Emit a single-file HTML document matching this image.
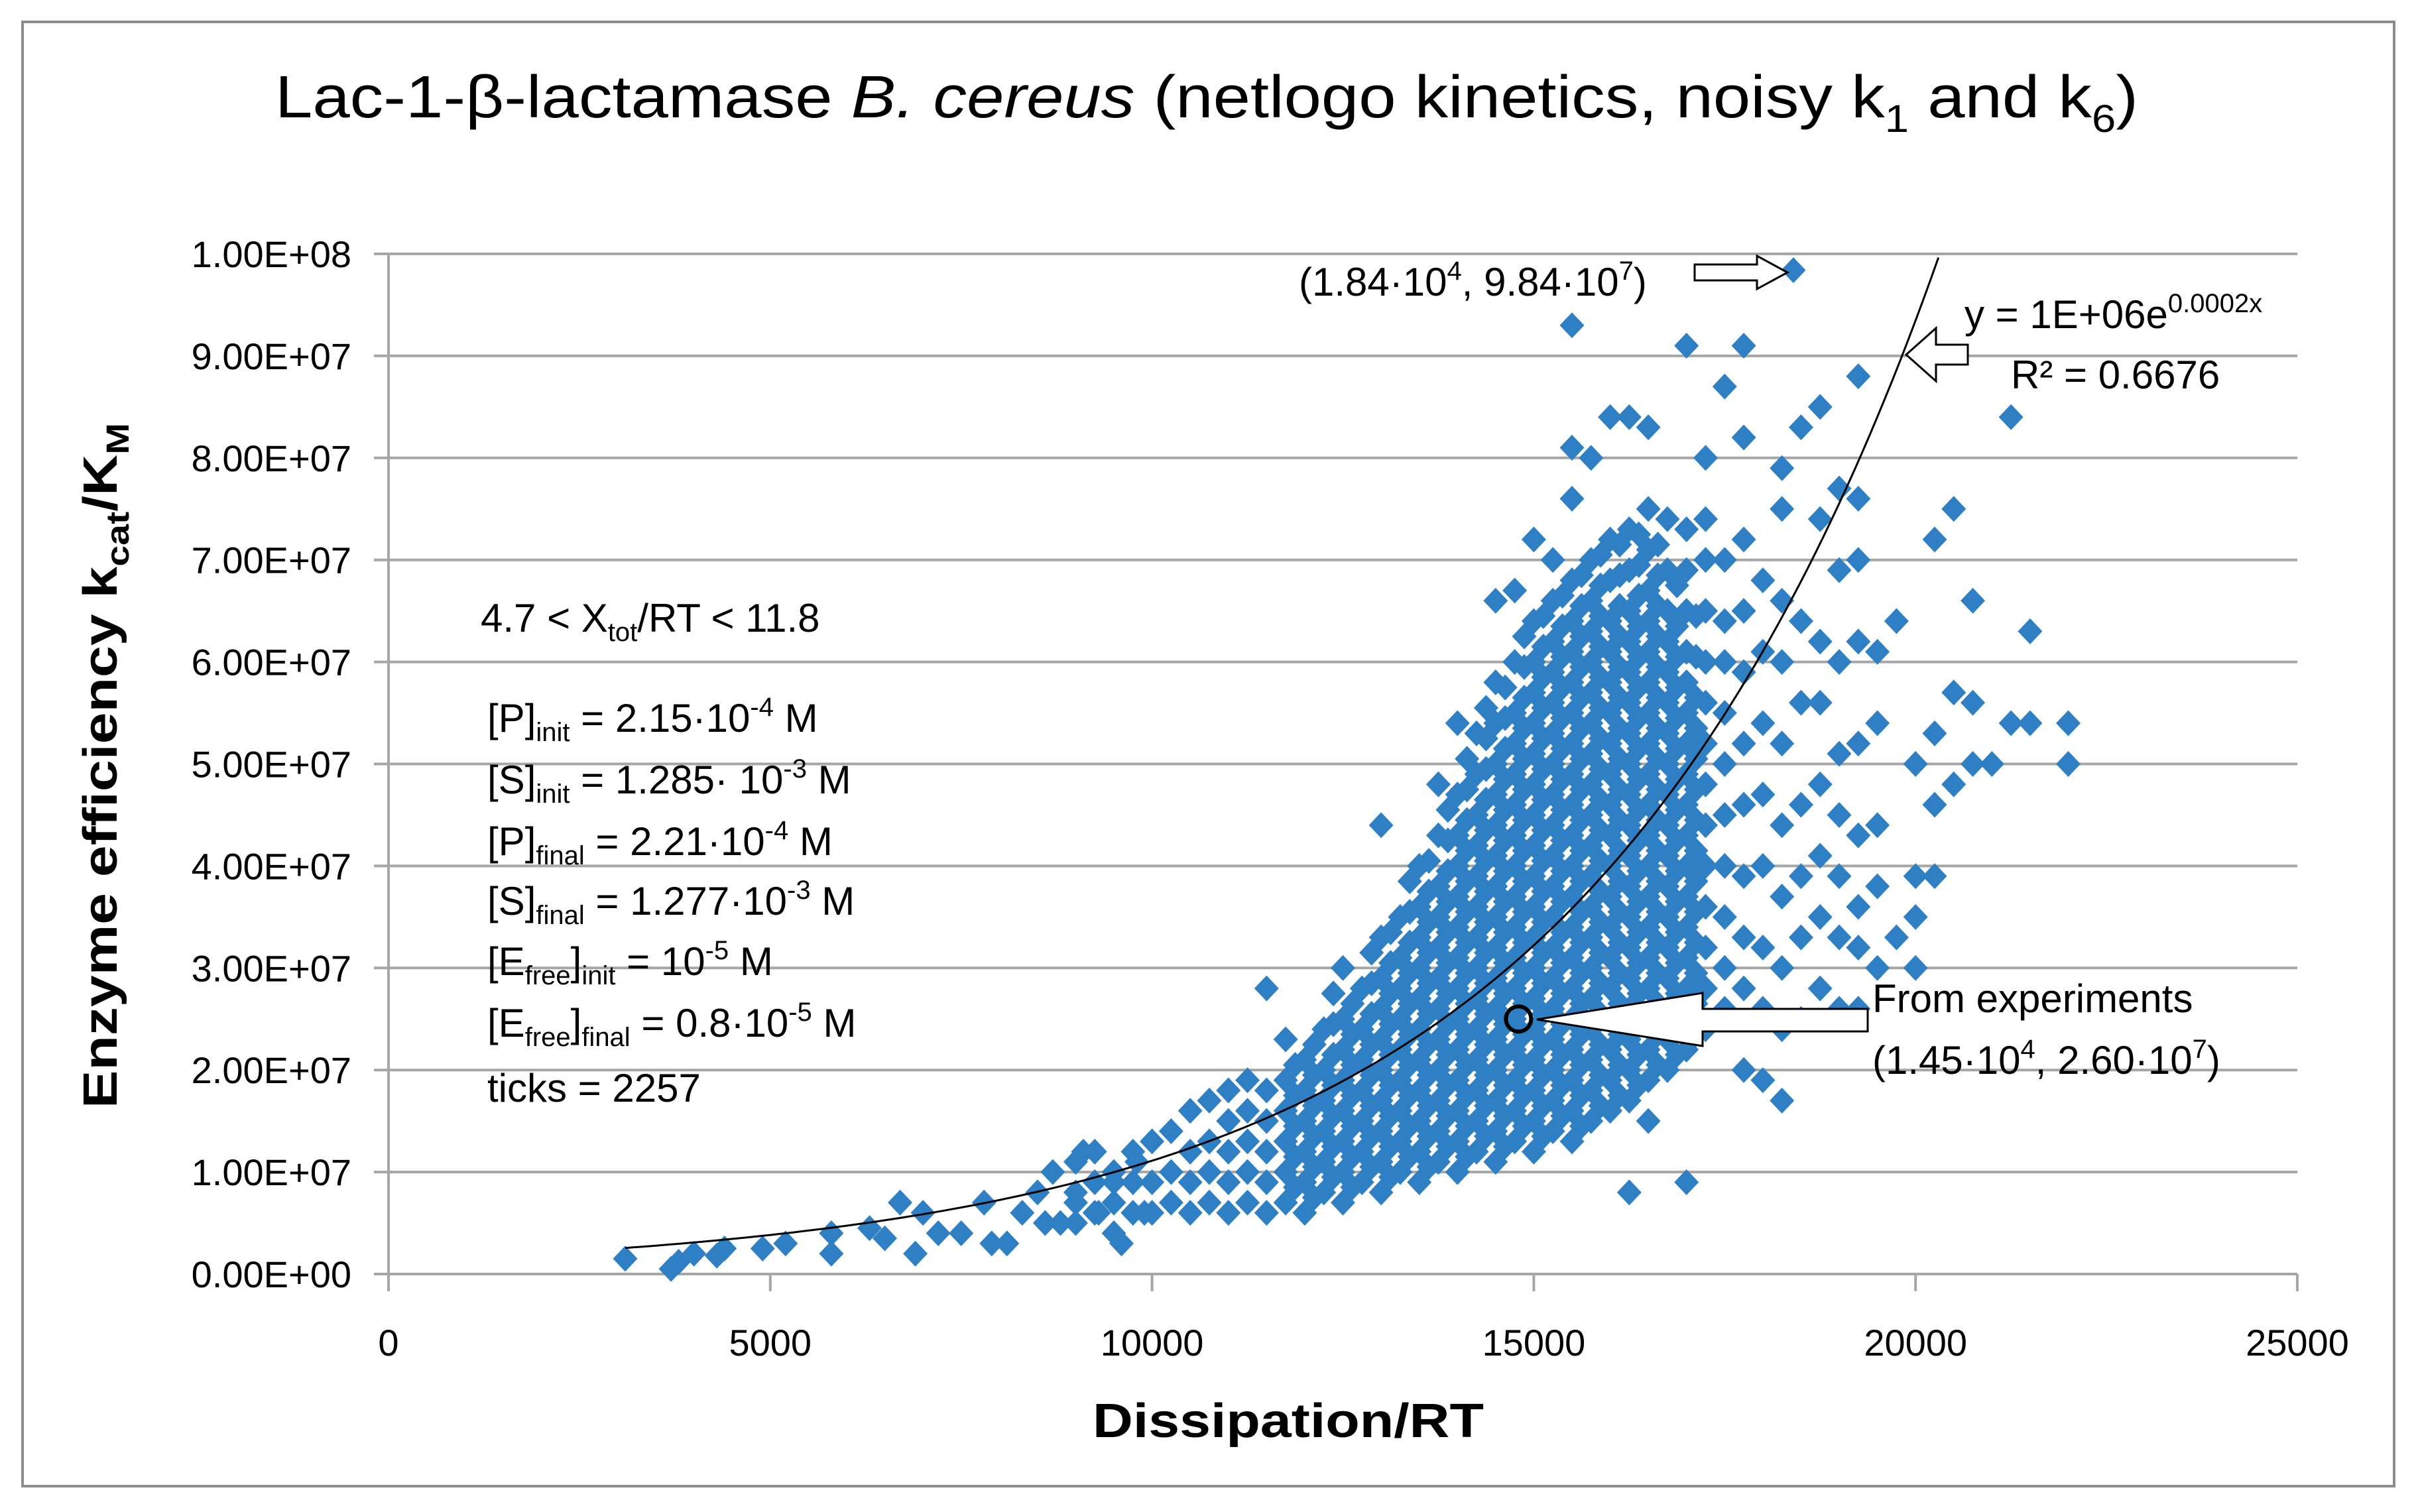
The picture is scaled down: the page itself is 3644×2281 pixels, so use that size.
<!DOCTYPE html>
<html><head><meta charset="utf-8"><title>Lac-1-β-lactamase B. cereus</title>
<style>html,body{margin:0;padding:0;background:#fff}svg{display:block}text{font-family:"Liberation Sans",sans-serif;fill:#000}</style>
</head><body>
<svg id="chart" width="3644" height="2281" viewBox="0 0 3644 2281" xmlns="http://www.w3.org/2000/svg">
<rect x="34" y="33" width="3577" height="2209" fill="#fff" stroke="#8c8c8c" stroke-width="4"/>
<text x="1820" y="177" font-size="90" text-anchor="middle" textLength="2810" lengthAdjust="spacingAndGlyphs">Lac-1-β-lactamase <tspan font-style="italic">B. cereus</tspan> (netlogo kinetics, noisy k<tspan font-size="58" dy="22">1</tspan><tspan dy="-22"> and k</tspan><tspan font-size="58" dy="22">6</tspan><tspan dy="-22">)</tspan></text>
<g id="grid"></g>
<g id="axes"></g>
<path id="trend" fill="none" stroke="#000" stroke-width="3"/>
<g id="pts"></g>
<text x="1943" y="2168" font-size="72" font-weight="bold" text-anchor="middle" textLength="590" lengthAdjust="spacingAndGlyphs">Dissipation/RT</text>
<text transform="translate(176,1155) rotate(-90)" font-size="72" font-weight="bold" text-anchor="middle" textLength="1034" lengthAdjust="spacingAndGlyphs">Enzyme efficiency k<tspan font-size="48" dy="18">cat</tspan><tspan dy="-18">/K</tspan><tspan font-size="48" dy="18">M</tspan></text>
<g font-size="60">
<text x="725" y="953">4.7 &lt; X<tspan font-size="40" dy="14">tot</tspan><tspan dy="-14">/RT &lt; 11.8</tspan></text>
<text x="735" y="1104">[P]<tspan font-size="40" dy="14">init</tspan><tspan dy="-14"> = 2.15·10</tspan><tspan font-size="40" dy="-24">-4</tspan><tspan dy="24"> M</tspan></text>
<text x="735" y="1197">[S]<tspan font-size="40" dy="14">init</tspan><tspan dy="-14"> = 1.285· 10</tspan><tspan font-size="40" dy="-24">-3</tspan><tspan dy="24"> M</tspan></text>
<text x="735" y="1290">[P]<tspan font-size="40" dy="14">final</tspan><tspan dy="-14">  = 2.21·10</tspan><tspan font-size="40" dy="-24">-4</tspan><tspan dy="24"> M</tspan></text>
<text x="735" y="1380">[S]<tspan font-size="40" dy="14">final</tspan><tspan dy="-14"> = 1.277·10</tspan><tspan font-size="40" dy="-24">-3</tspan><tspan dy="24"> M</tspan></text>
<text x="735" y="1471">[E<tspan font-size="40" dy="14">free</tspan><tspan dy="-14">]</tspan><tspan font-size="40" dy="14">init</tspan><tspan dy="-14">  = 10</tspan><tspan font-size="40" dy="-24">-5</tspan><tspan dy="24"> M</tspan></text>
<text x="735" y="1564">[E<tspan font-size="40" dy="14">free</tspan><tspan dy="-14">]</tspan><tspan font-size="40" dy="14">final</tspan><tspan dy="-14">  = 0.8·10</tspan><tspan font-size="40" dy="-24">-5</tspan><tspan dy="24"> M</tspan></text>
<text x="735" y="1662">ticks = 2257</text>
</g>
<g>
<text x="1959" y="446" font-size="60">(1.84·10<tspan font-size="40" dy="-24">4</tspan><tspan dy="24">, 9.84·10</tspan><tspan font-size="40" dy="-24">7</tspan><tspan dy="24">)</tspan></text>
<path d="M2556,399 L2650,399 L2650,386 L2696,411 L2650,436 L2650,423 L2556,423 Z" fill="#fff" stroke="#000" stroke-width="3"/>
</g>
<g>
<text x="2963" y="495" font-size="60">y = 1E+06e<tspan font-size="40" dy="-24">0.0002x</tspan></text>
<text x="3033" y="586" font-size="60">R² = 0.6676</text>
<path d="M2875,535 L2920,495 L2920,520 L2968,520 L2968,550 L2920,550 L2920,575 Z" fill="#fff" stroke="#000" stroke-width="3"/>
</g>
<g>
<path d="M2318,1538 L2568,1498 L2568,1522 L2817,1522 L2817,1556 L2568,1556 L2568,1578 Z" fill="#fff" stroke="#000" stroke-width="3"/>
<circle id="expPt" r="19" fill="none" stroke="#000" stroke-width="6"/>
<text x="2824" y="1527" font-size="60">From experiments</text>
<text x="2824" y="1620" font-size="60">(1.45·10<tspan font-size="40" dy="-24">4</tspan><tspan dy="24">, 2.60·10</tspan><tspan font-size="40" dy="-24">7</tspan><tspan dy="24">)</tspan></text>
</g>
</svg>
<script>
const xTicks=[0,5000,10000,15000,20000,25000];
const yTicks=[0,1e7,2e7,3e7,4e7,5e7,6e7,7e7,8e7,9e7,1e8];
const yTickLabels=["0.00E+00","1.00E+07","2.00E+07","3.00E+07","4.00E+07","5.00E+07","6.00E+07","7.00E+07","8.00E+07","9.00E+07","1.00E+08"];
const lowX=[3.1,3.7,3.8,4.0,4.3,4.4,4.9,5.2,5.8,5.8,6.3,6.5,6.7,6.9,7.0,7.2,7.5,7.8,7.9,8.1,8.3,8.5,8.6,8.7,8.8,9.0,9.1,9.3,9.5,9.6,9.8,9.9];
const lowY=[0.15,0.05,0.12,0.2,0.18,0.25,0.25,0.3,0.2,0.4,0.45,0.35,0.7,0.2,0.6,0.4,0.4,0.7,0.3,0.3,0.6,0.8,0.5,1.0,0.5,0.7,1.2,0.6,0.9,0.3,1.1,0.6];
const colX=[9.0,9.25,9.5,9.75,10.0,10.25,10.5,10.75,11.0,11.25,11.5,11.75,12.0,12.25,12.5,12.75,13.0,13.25,13.5,13.75,14.0,14.25,14.5,14.75,15.0,15.25,15.5,15.75,16.0,16.25,16.5,16.75,17.0,17.25,17.5,17.75,18.0,18.25,18.5,18.75,19.0,19.25,19.5,19.75,20.0,20.25,20.5,20.75,21.0,21.25,21.5,22.0];
const colY=[
[0.5,0.8,1.1],[0.6,0.9,1.2],[0.4,0.7,1.0],[0.6,0.9,1.2],
[0.6,0.9,1.3],[0.7,1.0,1.4],[0.6,0.9,1.2,1.6],[0.7,1.0,1.3,1.7],
[0.6,0.9,1.2,1.5,1.8],[0.7,1.0,1.3,1.6,1.9],[0.6,0.9,1.2,1.5,1.8,2.8],[0.7,1.0,1.3,1.6,1.9,2.3],
[0.6,0.9,1.2,1.5,1.8,2.1],[0.8,1.1,1.4,1.7,2.0,2.4],[0.7,1.0,1.3,1.6,1.9,2.2,2.5,3.0],[0.9,1.2,1.5,1.8,2.1,2.4,2.8],
[0.8,1.1,1.4,1.7,2.0,2.3,2.6,2.9,3.3,4.4],[1.0,1.3,1.6,1.9,2.2,2.5,2.8,3.1,3.5],
[0.9,1.2,1.5,1.8,2.1,2.4,2.7,3.0,3.3,3.6,4.0],[1.1,1.4,1.7,2.0,2.3,2.6,2.9,3.2,3.5,3.8,4.3,4.8],
[1.0,1.3,1.6,1.9,2.2,2.5,2.8,3.1,3.4,3.7,4.0,4.3,4.7,5.4],[1.2,1.5,1.8,2.1,2.4,2.7,3.0,3.3,3.6,3.9,4.2,4.5,4.9,5.3],
[1.1,1.4,1.7,2.0,2.3,2.6,2.9,3.2,3.5,3.8,4.1,4.4,4.7,5.0,5.4,5.8,6.6],[1.3,1.6,1.9,2.2,2.5,2.8,3.1,3.4,3.7,4.0,4.3,4.6,4.9,5.2,5.5,6.0,6.7],
[1.2,1.5,1.8,2.1,2.4,2.7,3.0,3.3,3.6,3.9,4.2,4.5,4.8,5.1,5.4,5.7,6.0,6.4,7.2],[1.4,1.7,2.0,2.3,2.6,2.9,3.2,3.5,3.8,4.1,4.4,4.7,5.0,5.3,5.6,5.9,6.2,6.6,7.0],
[1.3,1.6,1.9,2.2,2.5,2.8,3.1,3.4,3.7,4.0,4.3,4.6,4.9,5.2,5.5,5.8,6.1,6.4,6.8,7.6,8.1,9.3],[1.5,1.8,2.1,2.4,2.7,3.0,3.3,3.6,3.9,4.2,4.5,4.8,5.1,5.4,5.7,6.0,6.3,6.6,7.0,8.0],
[1.6,1.9,2.2,2.5,2.8,3.1,3.4,3.7,4.0,4.3,4.6,4.9,5.2,5.5,5.8,6.1,6.4,6.8,7.2,8.4],[0.8,1.7,2.0,2.3,2.6,2.9,3.2,3.5,3.8,4.1,4.4,4.7,5.0,5.3,5.6,5.9,6.2,6.5,6.9,7.3,8.4],
[1.5,1.9,2.2,2.5,2.8,3.1,3.4,3.7,4.0,4.3,4.6,4.9,5.2,5.5,5.8,6.1,6.4,6.7,7.1,7.5,8.3],[2.0,2.3,2.6,2.9,3.2,3.5,3.8,4.1,4.4,4.7,5.0,5.3,5.6,5.9,6.2,6.5,6.9,7.4],
[0.9,2.2,2.5,2.8,3.1,3.4,3.7,4.0,4.3,4.6,4.9,5.2,5.5,5.8,6.1,6.5,6.9,7.3,9.1],[2.4,2.8,3.2,3.6,4.0,4.4,4.8,5.2,5.6,6.0,6.5,7.0,7.4,8.0],
[2.6,3.0,3.5,4.0,4.5,5.0,5.5,6.0,6.4,7.0,8.7],[2.0,2.8,3.3,3.9,4.6,5.2,5.9,6.5,7.2,8.2,9.1],
[1.9,2.6,3.2,4.0,4.7,5.4,6.1,6.8],[1.7,2.4,3.0,3.7,4.4,5.2,6.0,6.6,7.5,7.9],
[2.5,3.3,3.9,4.6,5.6,6.4,8.3],[2.8,3.5,4.1,4.8,5.6,6.2,7.4,8.5],
[2.6,3.3,3.9,4.5,5.1,6.0,6.9,7.7],[2.6,3.2,3.6,4.3,5.2,6.2,7.0,7.6,8.8],
[3.0,3.8,4.4,5.4,6.1],[3.3,6.4],[3.0,3.5,3.9,5.0],[3.9,4.6,5.3,7.2],
[4.8,5.7,7.5],[5.0,5.6,6.6],[5.0],[5.4,8.4],[5.4,6.3],[5.0,5.4]];
const coreX=[11.875,12.125,12.375,12.625,12.875,13.125,13.375,13.625,13.875,14.125,14.375,14.625,14.875,15.125,15.375,15.625,15.875,16.125,16.375,16.625,16.875,17.125];
const coreY=[
[0.85,1.15,1.45,1.75,2.05],
[0.75,1.05,1.35,1.65,1.95,2.25],
[0.95,1.25,1.55,1.85,2.15,2.45,2.75],
[0.85,1.15,1.45,1.75,2.05,2.35,2.65],
[1.05,1.35,1.65,1.95,2.25,2.55,2.85,3.15],
[0.95,1.25,1.55,1.85,2.15,2.45,2.75,3.05,3.35],
[1.15,1.45,1.75,2.05,2.35,2.65,2.95,3.25,3.55,3.85],
[1.05,1.35,1.65,1.95,2.25,2.55,2.85,3.15,3.45,3.75,4.05],
[1.25,1.55,1.85,2.15,2.45,2.75,3.05,3.35,3.65,3.95,4.25,4.55],
[1.15,1.45,1.75,2.05,2.35,2.65,2.95,3.25,3.55,3.85,4.15,4.45,4.75,5.05],
[1.35,1.65,1.95,2.25,2.55,2.85,3.15,3.45,3.75,4.05,4.35,4.65,4.95,5.25,5.55],
[1.25,1.55,1.85,2.15,2.45,2.75,3.05,3.35,3.65,3.95,4.25,4.55,4.85,5.15,5.45,5.75],
[1.45,1.75,2.05,2.35,2.65,2.95,3.25,3.55,3.85,4.15,4.45,4.75,5.05,5.35,5.65,5.95,6.25],
[1.35,1.65,1.95,2.25,2.55,2.85,3.15,3.45,3.75,4.05,4.35,4.65,4.95,5.25,5.55,5.85,6.15,6.45],
[1.55,1.85,2.15,2.45,2.75,3.05,3.35,3.65,3.95,4.25,4.55,4.85,5.15,5.45,5.75,6.05,6.35,6.65],
[1.45,1.75,2.05,2.35,2.65,2.95,3.25,3.55,3.85,4.15,4.45,4.75,5.05,5.35,5.65,5.95,6.25,6.55,6.85],
[1.65,1.95,2.25,2.55,2.85,3.15,3.45,3.75,4.05,4.35,4.65,4.95,5.25,5.55,5.85,6.15,6.45,6.75,7.05],
[1.75,2.05,2.35,2.65,2.95,3.25,3.55,3.85,4.15,4.45,4.75,5.05,5.35,5.65,5.95,6.25,6.55,6.85,7.15],
[1.85,2.15,2.45,2.75,3.05,3.35,3.65,3.95,4.25,4.55,4.85,5.15,5.45,5.75,6.05,6.35,6.65,6.95,7.25],
[2.05,2.35,2.65,2.95,3.25,3.55,3.85,4.15,4.45,4.75,5.05,5.35,5.65,5.95,6.25,6.55,6.85,7.15],
[2.15,2.45,2.75,3.05,3.35,3.65,3.95,4.25,4.55,4.85,5.15,5.45,5.75,6.05,6.35,6.75],
[2.35,2.65,2.95,3.25,3.55,3.85,4.15,4.45,4.75,5.05,5.35,5.65,6.05,6.45]];
const maxPoint=[18.4,9.84];
const expPoint=[14.8,2.5];
const trendA=1.32e6, trendB=0.000213, trendX0=3100, trendX1=20300;

const NS="http://www.w3.org/2000/svg";
const X0=586,X1=3465,Y0=1922,Y1=383;
const sx=v=>X0+(v-0)/(25000-0)*(X1-X0);
const sy=v=>Y0-(v-0)/(1e8-0)*(Y0-Y1);
function mk(tag,attrs,parent){const e=document.createElementNS(NS,tag);for(const k in attrs)e.setAttribute(k,attrs[k]);parent.appendChild(e);return e;}
const grid=document.getElementById('grid'),axes=document.getElementById('axes'),pts=document.getElementById('pts');
yTicks.forEach((t,i)=>{
  const l=mk('line',{x1:X0-22,x2:X1,y1:sy(t),y2:sy(t),stroke:'#a6a6a6','stroke-width':4},grid);
  
  
  const tx=mk('text',{x:530,y:sy(t)+20,'font-size':56,'text-anchor':'end'},axes);
  tx.textContent=yTickLabels[i];
  
  
});
const yl=mk('line',{x1:X0,x2:X0,y1:Y1,y2:Y0,stroke:'#a6a6a6','stroke-width':4},axes);


xTicks.forEach(t=>{
  const l=mk('line',{x1:sx(t),x2:sx(t),y1:Y0,y2:Y0+26,stroke:'#a6a6a6','stroke-width':4},axes);
  
  
  const tx=mk('text',{x:sx(t),y:2045,'font-size':56,'text-anchor':'middle'},axes);
  tx.textContent=String(t);
  
  
});
function diamond(xk,y7){
  const cx=sx(xk*1000),cy=sy(y7*1e7);
  const p=mk('path',{d:`M${cx},${cy-19.5}L${cx+18.5},${cy}L${cx},${cy+19.5}L${cx-18.5},${cy}Z`,fill:'#2e7fc3'},pts);
  
  
}
lowX.forEach((x,i)=>diamond(x,lowY[i]));
colX.forEach((x,i)=>colY[i].forEach(y=>diamond(x,y)));
coreX.forEach((x,i)=>coreY[i].forEach(y=>diamond(x,y)));
diamond(maxPoint[0],maxPoint[1]);
let d='';
for(let x=trendX0;x<=trendX1;x+=100){d+=(d?'L':'M')+sx(x).toFixed(1)+','+sy(trendA*Math.exp(trendB*x)).toFixed(1);}
document.getElementById('trend').setAttribute('d',d);
const c=document.getElementById('expPt');c.setAttribute('cx',sx(expPoint[0]*1000));c.setAttribute('cy',sy(expPoint[1]*1e7));
c.parentNode.appendChild(c);
document.getElementById('chart').appendChild(document.getElementById('trend'));
</script>
</body></html>
